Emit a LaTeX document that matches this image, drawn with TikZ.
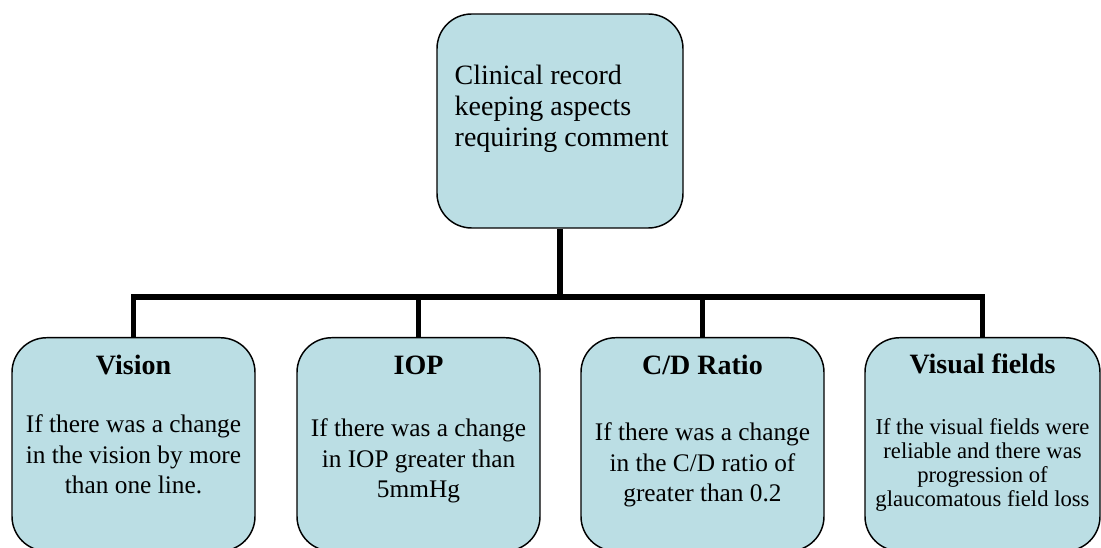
\documentclass[tikz,border=0pt]{standalone}
\usepackage{fontspec}
\setmainfont{Liberation Serif}
\definecolor{boxblue}{RGB}{187,222,228}
\begin{document}
\begin{tikzpicture}[x=0.75pt,y=-0.75pt,
  box/.style={draw=black,line width=1.1pt,fill=boxblue,rounded corners=26pt,inner sep=0pt},
  conn/.style={line width=3.8pt,line join=miter},
  head/.style={font=\fontsize{21}{22}\selectfont\bfseries},
  body/.style={font=\fontsize{19}{22.9}\selectfont,align=center}]
  \useasboundingbox (0,0) rectangle (1101,548);
  \clip (0,0) rectangle (1101,548);
  \node[box,minimum width=184.5pt,minimum height=160.5pt] (rec) at (560,121) {};
  \node[anchor=base west,align=left,font=\fontsize{21}{23.6}\selectfont] (rectext) at (450,147)
    {Clinical record\\keeping aspects\\requiring comment};
  \node[box,anchor=north,minimum width=182.25pt,minimum height=160pt] (vis) at (133.5,337) {};
  \node[box,anchor=north,minimum width=182.25pt,minimum height=160pt] (iop) at (418.5,337) {};
  \node[box,anchor=north,minimum width=182.25pt,minimum height=160pt] (cdr) at (702.5,337) {};
  \node[box,anchor=north,minimum width=176.25pt,minimum height=160pt] (vf) at (982.5,337) {};
  \node[head,anchor=base] (vishead) at (133.5,375) {Vision};
  \node[head,anchor=base] (iophead) at (418.5,375) {IOP};
  \node[head,anchor=base] (cdrhead) at (702.5,375) {C/D Ratio};
  \node[head,anchor=base] (vfhead) at (982.5,374) {Visual fields};
  \node[body,anchor=base] (visbody) at (133.5,494)
    {If there was a change\\in the vision by more\\than one line.};
  \node[body,anchor=base] (iopbody) at (418.5,498)
    {If there was a change\\in IOP greater than\\5mmHg};
  \node[body,anchor=base] (cdrbody) at (702.5,502)
    {If there was a change\\in the C/D ratio of\\greater than 0.2};
  \node[body,anchor=base,font=\fontsize{17}{18}\selectfont] (vfbody) at (982.5,507)
    {If the visual fields were\\reliable and there was\\progression of\\glaucomatous field loss};
  \coordinate (bus) at (560,297);
  \draw[conn] (rec.south) -- (bus);
  \draw[conn] (vis.north) |- (bus);
  \draw[conn] (iop.north) |- (bus);
  \draw[conn] (cdr.north) |- (bus);
  \draw[conn] (vf.north) |- (bus);
\end{tikzpicture}
\end{document}
